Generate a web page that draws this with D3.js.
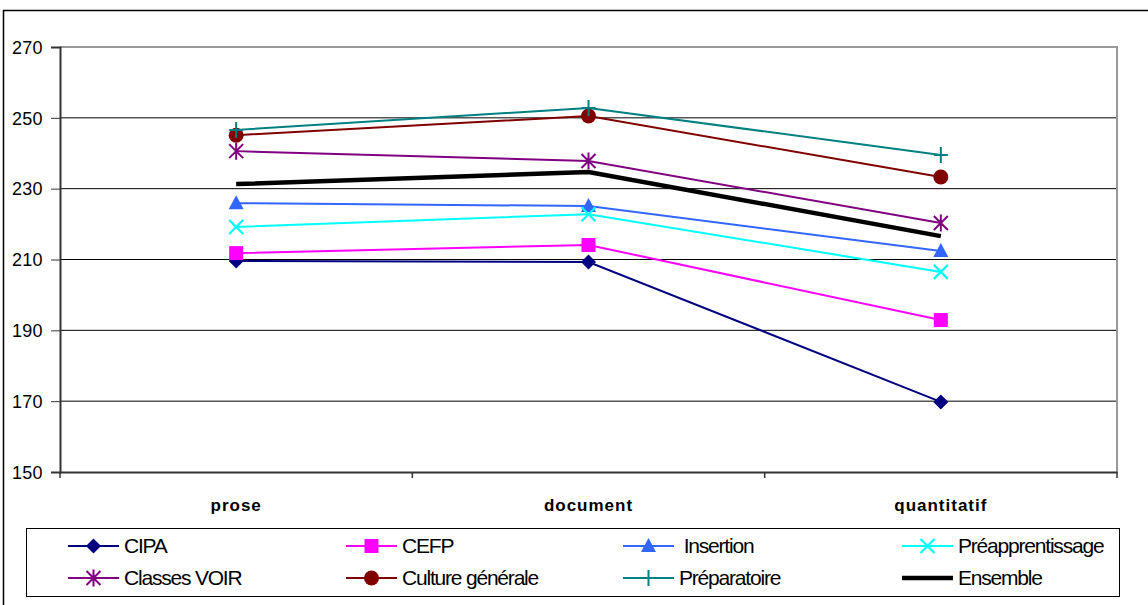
<!DOCTYPE html>
<html><head><meta charset="utf-8">
<script src="https://cdn.jsdelivr.net/npm/d3@7"></script>
<style>body{margin:0;background:#fff}svg{display:block}text{font-family:"Liberation Sans",Arial,sans-serif;white-space:pre}</style>
</head><body><svg id="c" width="1148" height="605"></svg>
<script>
const categories = ["prose", "document", "quantitatif"];
const yTicks = [150, 170, 190, 210, 230, 250, 270];
const seriesNames = ["CIPA", "CEFP", " Insertion", "Préapprentissage", "Classes VOIR", "Culture générale", "Préparatoire", "Ensemble"];
const cipa = [209.6, 209.3, 169.8];
const cefp = [211.8, 214.1, 192.9];
const insertion = [225.9, 225.1, 212.4];
const preapp = [219.2, 222.8, 206.5];
const classesVoir = [240.6, 237.8, 220.3];
const culture = [245.1, 250.5, 233.3];
const preparatoire = [246.6, 252.8, 239.5];
const ensemble = [231.3, 234.7, 216.6];
const colors = ["#000080", "#FF00FF", "#3366FF", "#00FFFF", "#800080", "#800000", "#008080", "#000000"];
const symbols = ["diamond", "square", "triangle", "x", "star", "circle", "plus", "none"];

const seriesValues = [cipa, cefp, insertion, preapp, classesVoir, culture, preparatoire, ensemble];
const svg = d3.select("#c");
const L = 60, R = 1117, T = 47, B = 472;
const x = d3.scaleBand().domain(categories).range([L, R]);
const y = d3.scaleLinear().domain([150, 270]).range([B, T]);

// outer frame
svg.append("rect").attr("x", 3.5).attr("y", 10.5).attr("width", 1160).attr("height", 620)
  .attr("fill", "none").attr("stroke", "#000").attr("stroke-width", 1.5);

// gridlines
svg.append("g").selectAll("line").data(yTicks.filter(d => d > 150 && d < 270)).join("line")
  .attr("x1", L).attr("x2", R).attr("y1", d => y(d)).attr("y2", d => y(d))
  .attr("stroke", "#000").attr("stroke-width", 1);

// plot border top/right
svg.append("path").attr("d", `M${L},${T}H${R}V${B}`).attr("fill", "none").attr("stroke", "#999").attr("stroke-width", 2);

// y axis
const yAxis = svg.append("g").attr("transform", `translate(${L},0)`)
  .call(d3.axisLeft(y).tickValues(yTicks).tickSize(9).tickPadding(4));
yAxis.select(".domain").attr("stroke", "#333").attr("stroke-width", 2);
yAxis.selectAll(".tick line").attr("stroke", "#333");
yAxis.selectAll("text").attr("font-size", 18).attr("fill", "#000").attr("letter-spacing", "0.2px")
  .attr("x", -48).attr("text-anchor", "start").attr("dy", "0.35em");

// x axis
const xAxis = svg.append("g").attr("transform", `translate(0,${B})`)
  .call(d3.axisBottom(x).tickSize(0).tickPadding(27));
xAxis.select(".domain").attr("stroke", "#333").attr("stroke-width", 2);
xAxis.selectAll("text").attr("font-size", 17).attr("font-weight", "bold").attr("fill", "#000").attr("letter-spacing", "1px");
// category separator ticks
const bounds = [L, ...categories.map(c => x(c) + x.bandwidth())].slice(0, 4);
svg.append("g").selectAll("line").data(bounds).join("line")
  .attr("x1", d => d).attr("x2", d => d).attr("y1", B).attr("y2", B + 6)
  .attr("stroke", "#333").attr("stroke-width", 1.5);

function drawSymbol(g, type, color, cx, cy) {
  if (type === "diamond") g.append("path").attr("d", `M${cx},${cy-7.5}L${cx+7.5},${cy}L${cx},${cy+7.5}L${cx-7.5},${cy}Z`).attr("fill", color);
  else if (type === "square") g.append("rect").attr("x", cx-7).attr("y", cy-7).attr("width", 14).attr("height", 14).attr("fill", color);
  else if (type === "triangle") g.append("path").attr("d", `M${cx},${cy-8}L${cx+7.5},${cy+6}L${cx-7.5},${cy+6}Z`).attr("fill", color);
  else if (type === "circle") g.append("circle").attr("cx", cx).attr("cy", cy).attr("r", 7.5).attr("fill", color);
  else if (type === "x") g.append("path").attr("d", `M${cx-7},${cy-7}L${cx+7},${cy+7}M${cx-7},${cy+7}L${cx+7},${cy-7}`).attr("stroke", color).attr("stroke-width", 2.2);
  else if (type === "plus") g.append("path").attr("d", `M${cx-7},${cy}H${cx+7}M${cx},${cy-8}V${cy+8}`).attr("stroke", color).attr("stroke-width", 2);
  else if (type === "star") g.append("path").attr("d", `M${cx-7},${cy-7}L${cx+7},${cy+7}M${cx-7},${cy+7}L${cx+7},${cy-7}M${cx},${cy-8.5}V${cy+8.5}`).attr("stroke", color).attr("stroke-width", 2);
}

const line = d3.line().x((d, i) => x(categories[i]) + x.bandwidth() / 2).y(d => y(d));
seriesValues.forEach((vals, si) => {
  const g = svg.append("g");
  g.append("path").attr("d", line(vals)).attr("fill", "none").attr("stroke", colors[si])
    .attr("stroke-width", si === 7 ? 4.5 : 2);
  vals.forEach((v, i) => drawSymbol(g, symbols[si], colors[si], x(categories[i]) + x.bandwidth() / 2, y(v)));
});

// legend
const lg = svg.append("g");
lg.append("rect").attr("x", 26.5).attr("y", 528.5).attr("width", 1093).attr("height", 68)
  .attr("fill", "none").attr("stroke", "#000").attr("stroke-width", 1);
const colX = [68, 346, 623, 902];
const rowY = [546, 578];
seriesNames.forEach((name, i) => {
  const cx = colX[i % 4], cy = rowY[Math.floor(i / 4)];
  lg.append("line").attr("x1", cx).attr("x2", cx + 51).attr("y1", cy).attr("y2", cy)
    .attr("stroke", colors[i]).attr("stroke-width", i === 7 ? 4.5 : 2);
  drawSymbol(lg, symbols[i], colors[i], cx + 25.5, cy);
  lg.append("text").attr("x", cx + 56).attr("y", cy).attr("dy", "0.35em").attr("font-size", 21)
    .attr("letter-spacing", "-1.2px").text(name);
});
</script></body></html>
